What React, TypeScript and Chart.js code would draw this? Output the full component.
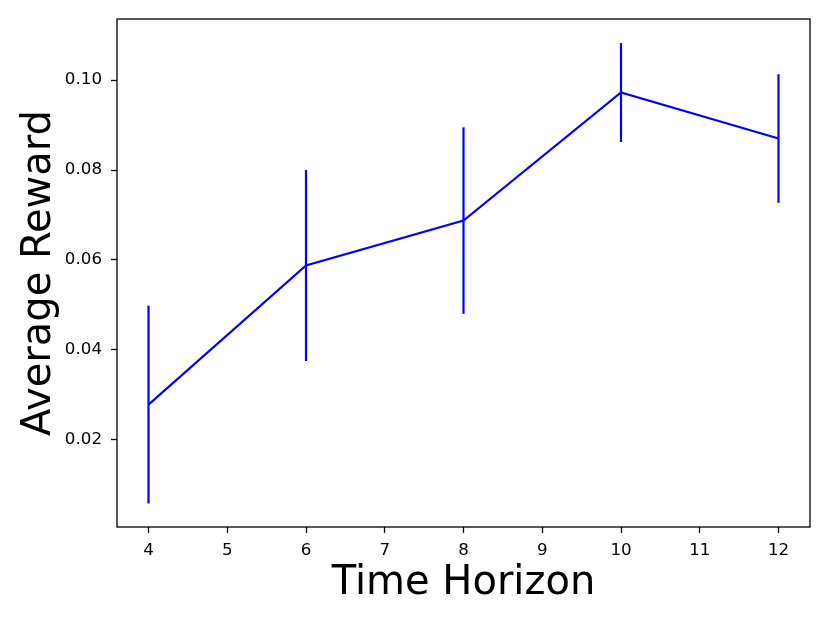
import React, { useEffect, useRef } from "react";
import { Chart, registerables } from "chart.js";

Chart.register(...registerables);

const horizons = [4, 6, 8, 10, 12];
const avgReward = [0.0278, 0.05875, 0.06875, 0.09725, 0.087];
const rewardErr = [0.022, 0.02125, 0.02075, 0.011, 0.0143];
const xTickValues = [4, 5, 6, 7, 8, 9, 10, 11, 12];
const yTickValues = [0.02, 0.04, 0.06, 0.08, 0.1];

const FONT = "'DejaVu Sans', sans-serif";

const errorBarPlugin = {
  id: "errorBars",
  afterDatasetsDraw(chart: any) {
    const { ctx, scales } = chart;
    const xs = scales.x;
    const ys = scales.y;
    ctx.save();
    ctx.strokeStyle = "#0000ff";
    ctx.lineWidth = 2.2;
    horizons.forEach((h, i) => {
      const px = xs.getPixelForValue(h);
      const y1 = ys.getPixelForValue(avgReward[i] - rewardErr[i]);
      const y2 = ys.getPixelForValue(avgReward[i] + rewardErr[i]);
      ctx.beginPath();
      ctx.moveTo(px, y1);
      ctx.lineTo(px, y2);
      ctx.stroke();
    });
    ctx.restore();
  },
};

const framePlugin = {
  id: "frame",
  afterDraw(chart: any) {
    const { ctx, chartArea } = chart;
    ctx.save();
    ctx.strokeStyle = "#000";
    ctx.lineWidth = 1.3;
    ctx.strokeRect(chartArea.left, chartArea.top, chartArea.right - chartArea.left, chartArea.bottom - chartArea.top);
    ctx.restore();
  },
};

export default function App() {
  const ref = useRef<HTMLCanvasElement | null>(null);
  useEffect(() => {
    if (!ref.current) return;
    const chart = new Chart(ref.current, {
      type: "line",
      data: {
        datasets: [
          {
            data: horizons.map((h, i) => ({ x: h, y: avgReward[i] })),
            borderColor: "#0000ff",
            borderWidth: 2.2,
            pointRadius: 0,
            tension: 0,
            fill: false,
          },
        ],
      },
      options: {
        responsive: false,
        animation: false,
        layout: { padding: { top: 18, right: 20, left: 0, bottom: 0 } },
        plugins: { legend: { display: false }, tooltip: { enabled: false } },
        scales: {
          x: {
            type: "linear",
            min: 3.6,
            max: 12.4,
            afterBuildTicks: (s: any) => {
              s.ticks = xTickValues.map((v) => ({ value: v }));
            },
            afterFit: (s: any) => {
              s.height = 96;
            },
            ticks: {
              color: "#000",
              font: { family: FONT, size: 16.7 },
              padding: 8,
              maxRotation: 0,
              autoSkip: false,
              callback: (v: any) => String(v),
            },
            grid: {
              display: true,
              drawOnChartArea: false,
              drawTicks: true,
              tickLength: 6,
              tickColor: "#000",
              tickWidth: 1.3,
            },
            border: { display: false },
            title: {
              display: true,
              text: "Time Horizon",
              color: "#000",
              font: { family: FONT, size: 40 },
              padding: { top: 0, bottom: 15 },
            },
          },
          y: {
            type: "linear",
            min: 0.00056,
            max: 0.1136,
            afterBuildTicks: (s: any) => {
              s.ticks = yTickValues.map((v) => ({ value: v }));
            },
            afterFit: (s: any) => {
              s.width = 117;
            },
            ticks: {
              color: "#000",
              font: { family: FONT, size: 16.7 },
              padding: 9,
              autoSkip: false,
              callback: (v: any) => Number(v).toFixed(2),
            },
            grid: {
              display: true,
              drawOnChartArea: false,
              drawTicks: true,
              tickLength: 6,
              tickColor: "#000",
              tickWidth: 1.3,
            },
            border: { display: false },
            title: {
              display: true,
              text: "Average Reward",
              color: "#000",
              font: { family: FONT, size: 40 },
              padding: { top: 16, bottom: 0 },
            },
          },
        },
      },
      plugins: [errorBarPlugin, framePlugin],
    });
    return () => chart.destroy();
  }, []);
  return (
    <div style={{ position: "absolute", left: 0, top: 0, width: 830, height: 623, background: "#fff" }}>
      <canvas ref={ref} width={830} height={623} style={{ display: "block" }} />
    </div>
  );
}
